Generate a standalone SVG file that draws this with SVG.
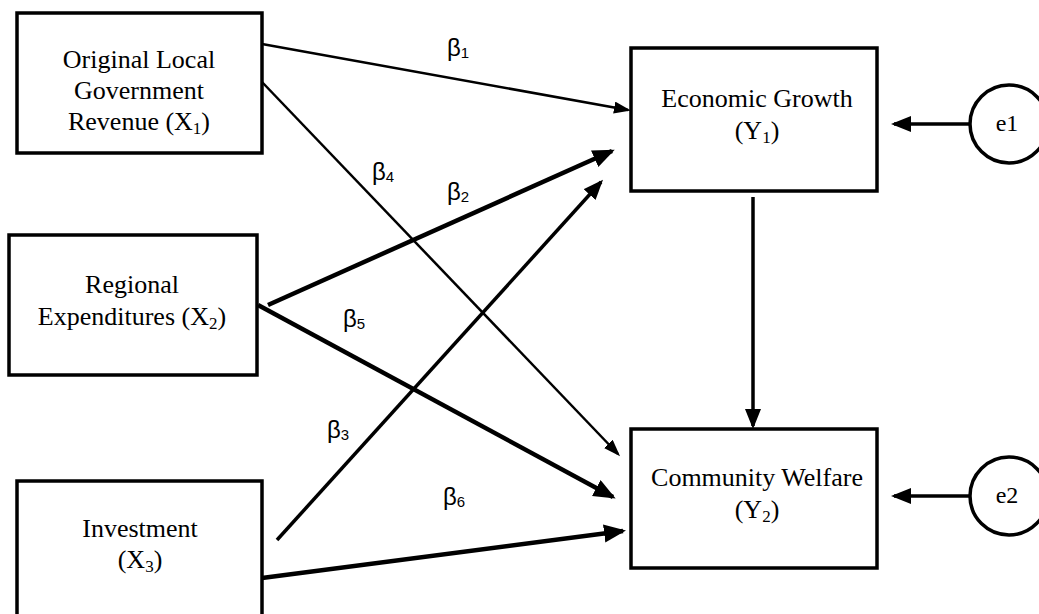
<svg xmlns="http://www.w3.org/2000/svg" width="1039" height="614" viewBox="0 0 1039 614">
<style>
.box{fill:#fff;stroke:#000;stroke-width:3.5}
.lbl{font-family:"Liberation Serif","Times New Roman",serif;font-size:26px;fill:#000;text-anchor:middle}
.sub{font-size:17px}
.beta{font-family:"Liberation Sans",Arial,sans-serif;font-size:24px;fill:#000}
.bsub{font-size:15px}
.thin{stroke:#000;stroke-width:2.5;fill:none;marker-end:url(#ahS)}
.mid{stroke:#000;stroke-width:3.5;fill:none;marker-end:url(#ahM)}
.thick{stroke:#000;stroke-width:4.5;fill:none;marker-end:url(#ahL)}
</style>
<defs>
<marker id="ahS" markerUnits="userSpaceOnUse" markerWidth="18" markerHeight="14" refX="14" refY="6" orient="auto"><path d="M0,0 L17,6 L0,12 z" fill="#000"/></marker>
<marker id="ahM" markerUnits="userSpaceOnUse" markerWidth="22" markerHeight="18" refX="17" refY="8" orient="auto"><path d="M0,0 L20,8 L0,16 z" fill="#000"/></marker>
<marker id="ahL" markerUnits="userSpaceOnUse" markerWidth="24" markerHeight="20" refX="19" refY="9" orient="auto"><path d="M0,0 L22,9 L0,18 z" fill="#000"/></marker>
</defs>

<g id="connectors">
<line class="thin" x1="262" y1="44" x2="628" y2="110"/>
<line class="thin" x1="262" y1="82" x2="618" y2="454"/>
<line class="thick" x1="268" y1="305" x2="612" y2="151"/>
<line class="thick" x1="258" y1="305" x2="613" y2="497"/>
<line class="mid" x1="277" y1="540" x2="601" y2="182"/>
<line class="thick" x1="262" y1="578" x2="623" y2="531"/>
<line class="mid" x1="753" y1="197" x2="753" y2="426"/>
<line class="mid" x1="970" y1="124" x2="894" y2="124"/>
<line class="mid" x1="970" y1="496" x2="894" y2="496"/>
</g>

<g id="betas">
<text class="beta" x="447" y="56">β<tspan class="bsub" dy="2">1</tspan></text>
<text class="beta" x="372" y="180">β<tspan class="bsub" dy="2">4</tspan></text>
<text class="beta" x="447" y="200">β<tspan class="bsub" dy="2">2</tspan></text>
<text class="beta" x="343" y="327">β<tspan class="bsub" dy="2">5</tspan></text>
<text class="beta" x="327" y="438">β<tspan class="bsub" dy="2">3</tspan></text>
<text class="beta" x="443" y="505">β<tspan class="bsub" dy="2">6</tspan></text>
</g>

<g id="X1">
<rect class="box" x="17" y="13" width="245" height="140"/>
<text class="lbl" x="139" y="68">Original Local</text>
<text class="lbl" x="139" y="99">Government</text>
<text class="lbl" x="139" y="130">Revenue (X<tspan class="sub" dy="4">1</tspan><tspan dy="-4">)</tspan></text>
</g>

<g id="X2">
<rect class="box" x="9" y="235" width="248" height="140"/>
<text class="lbl" x="132" y="293">Regional</text>
<text class="lbl" x="132" y="325">Expenditures (X<tspan class="sub" dy="4">2</tspan><tspan dy="-4">)</tspan></text>
</g>

<g id="X3">
<rect class="box" x="17" y="481" width="245" height="145"/>
<text class="lbl" x="140" y="537">Investment</text>
<text class="lbl" x="140" y="568">(X<tspan class="sub" dy="4">3</tspan><tspan dy="-4">)</tspan></text>
</g>

<g id="Y1">
<rect class="box" x="631" y="48" width="246" height="143"/>
<text class="lbl" x="757" y="107">Economic Growth</text>
<text class="lbl" x="757" y="139">(Y<tspan class="sub" dy="4">1</tspan><tspan dy="-4">)</tspan></text>
</g>

<g id="Y2">
<rect class="box" x="631" y="429" width="246" height="139"/>
<text class="lbl" x="757" y="486">Community Welfare</text>
<text class="lbl" x="757" y="518">(Y<tspan class="sub" dy="4">2</tspan><tspan dy="-4">)</tspan></text>
</g>

<g id="e1">
<circle cx="1009" cy="124" r="39" fill="#fff" stroke="#000" stroke-width="3.5"/>
<text class="lbl" x="1007" y="131" style="font-size:24px">e1</text>
</g>

<g id="e2">
<circle cx="1009" cy="496" r="39" fill="#fff" stroke="#000" stroke-width="3.5"/>
<text class="lbl" x="1007" y="503" style="font-size:24px">e2</text>
</g>
</svg>
